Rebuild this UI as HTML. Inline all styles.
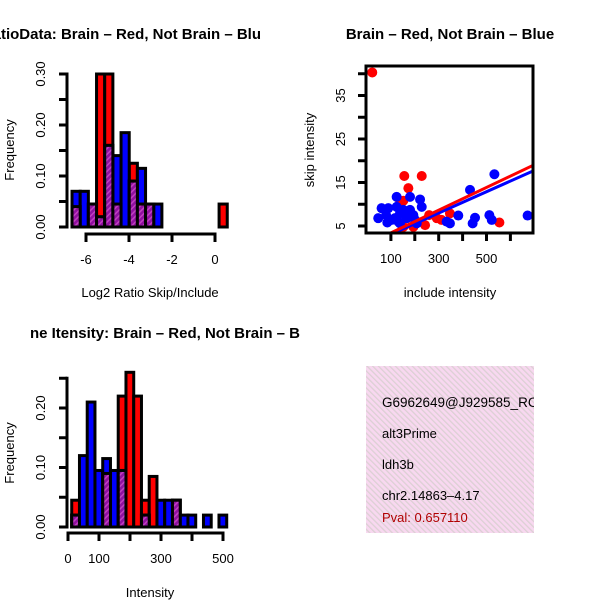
<!DOCTYPE html>
<html><head><meta charset="utf-8"><style>
body{margin:0;background:#fff}
svg{display:block;font-family:"Liberation Sans",sans-serif}
</style></head><body>
<svg id="s" width="600" height="600" viewBox="0 0 600 600">
<defs>
<pattern id="hatch" width="4" height="4" patternUnits="userSpaceOnUse" patternTransform="rotate(45)">
<rect width="4" height="4" fill="#9010a0"/><rect width="1.5" height="4" fill="#c040c0"/></pattern>
<pattern id="pink" width="4" height="4" patternUnits="userSpaceOnUse" patternTransform="rotate(-45)">
<rect width="4" height="4" fill="#f8d8f0"/><rect width="1.3" height="4" fill="#dcd0d4"/></pattern>
<clipPath id="infoclip"><rect x="366" y="366" width="168" height="167"/></clipPath>
</defs>
<text x="261" y="39" text-anchor="end" font-size="15" font-weight="bold">RatioData: Brain – Red, Not Brain – Blu</text>
<text x="450" y="39" text-anchor="middle" font-size="15" font-weight="bold">Brain – Red, Not Brain – Blue</text>
<text x="300" y="338" text-anchor="end" font-size="15" font-weight="bold">ne Itensity: Brain – Red, Not Brain – B</text>
<g id="g1"></g><g id="g2"></g><g id="g3"></g>
<rect x="366" y="366" width="168" height="167" fill="url(#pink)"/>
<g clip-path="url(#infoclip)">
<text x="382" y="407" font-size="13.5">G6962649@J929585_RC</text>
</g>
<text x="382" y="438" font-size="13">alt3Prime</text>
<text x="382" y="469" font-size="13">ldh3b</text>
<text x="382" y="500" font-size="13">chr2.14863–4.17</text>
<text x="382" y="522" font-size="13" fill="#b00000">Pval: 0.657110</text>
</svg>
<script>
// Top histogram data
const ratioRed=[0.04,0,0.045,0.30,0.30,0.045,0,0.125,0.045,0.045,0,0,0,0,0,0,0,0,0.045];
const ratioBlue=[0.07,0.07,0.045,0.02,0.16,0.14,0.185,0.09,0.115,0.045,0.045,0,0,0,0,0,0,0,0];
const ratioXTicks=[-6,-4,-2,0];
const ratioYTicks=[0,0.05,0.10,0.15,0.20,0.25,0.30];
const ratioYLabels=["0.00","","0.10","","0.20","","0.30"];
// Bottom histogram data
const intRed=[0.045,0,0,0,0.09,0,0.22,0.26,0.22,0.045,0.085,0,0,0.045,0,0,0,0,0,0];
const intBlue=[0.02,0.12,0.21,0.095,0.115,0.095,0.095,0,0,0.02,0,0.045,0.045,0.045,0.02,0.02,0,0.02,0,0.02];
const intXTicks=[0,100,200,300,400,500];
const intXLabels=["0","100","","300","","500"];
const intYTicks=[0,0.05,0.10,0.15,0.20,0.25];
const intYLabels=["0.00","","0.10","","0.20",""];
// Scatter data
const blueX=[47,61,89,85,124,117,138,152,180,180,166,201,222,229,80,103,131,194,382,431,442,452,333,347,512,522,533,672,138,208,124];
const blueY=[6.8,9.1,9.1,5.8,11.7,6.8,7.9,8.7,11.7,8.7,6.8,6.4,11.1,9.4,7.5,6.4,6.0,7.5,7.4,13.3,5.6,6.9,6.0,5.6,7.5,6.4,16.9,7.4,5.6,5.6,9.4];
const redX=[22,156,229,173,138,152,554,292,347,243,194,152,312,260];
const redY=[40.3,16.5,16.5,13.7,10.2,10.8,5.8,6.8,7.9,5.2,4.8,4.8,6.4,7.5];
const fitSeries=['blue','red'];
const fitIntercept=[0.63,0.81];
const fitSlope=[0.0245,0.0261];
const scXTicks=[100,200,300,400,500,600];
const scXLabels=["100","","300","","500",""];
const scYTicks=[5,10,15,20,25,30,35,40];
const scYLabels=["5","","15","","25","","35",""];

const NS="http://www.w3.org/2000/svg";
function mk(p,t,a){const e=document.createElementNS(NS,t);for(const k in a)e.setAttribute(k,a[k]);p.appendChild(e);return e;}

function hist(g,red,blue,start,width,xs,ys,name){
  const n=red.length;
  const rect=(i,v,fill,nm)=>{
    if(v<=0)return;
    const x0=xs(start+i*width),x1=xs(start+(i+1)*width);
    const r=mk(g,'rect',{x:x0,y:ys(v),width:x1-x0,height:ys(0)-ys(v),fill:fill,stroke:'#000','stroke-width':3});
    
    
  };
  for(let i=0;i<n;i++)rect(i,red[i],'#ff0000',name+'-red-bar');
  for(let i=0;i<n;i++)rect(i,blue[i],'#0000ff',name+'-blue-bar');
  for(let i=0;i<n;i++)rect(i,Math.min(red[i],blue[i]),'url(#hatch)',name+'-overlap-bar');
}
function yAxis(g,ticks,labels,ys,x,name){
  mk(g,'line',{x1:x,x2:x,y1:ys(ticks[0]),y2:ys(ticks[ticks.length-1]),stroke:'#000','stroke-width':3,'stroke-linecap':'square'});
  ticks.forEach((t,i)=>{
    mk(g,'line',{x1:x,x2:x-8,y1:ys(t),y2:ys(t),stroke:'#000','stroke-width':3});
    if(labels[i]){const tx=mk(g,'text',{x:x-22,y:ys(t),'font-size':13,'text-anchor':'middle',transform:`rotate(-90 ${x-22} ${ys(t)})`});tx.textContent=labels[i];
    
    }
  });
}
function xAxis(g,ticks,labels,xs,y,name){
  mk(g,'line',{x1:xs(ticks[0]),x2:xs(ticks[ticks.length-1]),y1:y,y2:y,stroke:'#000','stroke-width':3,'stroke-linecap':'square'});
  ticks.forEach((t,i)=>{
    mk(g,'line',{x1:xs(t),x2:xs(t),y1:y,y2:y+8,stroke:'#000','stroke-width':3});
    if(labels[i]){const tx=mk(g,'text',{x:xs(t),y:y+30,'font-size':13,'text-anchor':'middle'});tx.textContent=labels[i];
    
    }
  });
}
function label(g,txt,x,y,rot,nm){
  const t=mk(g,'text',{x:x,y:y,'font-size':13,'text-anchor':'middle'});
  if(rot)t.setAttribute('transform',`rotate(-90 ${x} ${y})`);
  t.textContent=txt;
  
  
}
// Panel 1
{const g=document.getElementById('g1');
 const xs=v=>86+(v+6)*21.5, ys=v=>227-v*510;
 hist(g,ratioRed,ratioBlue,-6.65,0.38,xs,ys,'ratio');
 yAxis(g,ratioYTicks,ratioYLabels,ys,67,'ratio-y');
 xAxis(g,ratioXTicks,ratioXTicks.map(String),xs,234,'ratio-x');
 label(g,'Log2 Ratio Skip/Include',150,297,false,'ratio-x-title');
 label(g,'Frequency',14,150,true,'ratio-y-title');}
// Panel 3
{const g=document.getElementById('g3');
 const xs=v=>68+v*0.31, ys=v=>527-v*595;
 hist(g,intRed,intBlue,12,25,xs,ys,'intensity');
 yAxis(g,intYTicks,intYLabels,ys,67,'intensity-y');
 xAxis(g,intXTicks,intXLabels,xs,533,'intensity-x');
 label(g,'Intensity',150,597,false,'intensity-x-title');
 label(g,'Frequency',14,453,true,'intensity-y-title');}
// Panel 2 scatter
{const g=document.getElementById('g2');
 const xs=v=>367+v*0.239, ys=v=>226-(v-5)*4.35;
 mk(g,'clipPath',{id:'sc'}).appendChild(document.createElementNS(NS,'rect'));
 const cr=g.querySelector('#sc rect');cr.setAttribute('x',366);cr.setAttribute('y',66);cr.setAttribute('width',167);cr.setAttribute('height',167);
 const pts=mk(g,'g',{'clip-path':'url(#sc)'});
 redX.forEach((x,i)=>{const c=mk(pts,'circle',{cx:xs(x),cy:ys(redY[i]),r:5,fill:'#ff0000'});
   
   });
 blueX.forEach((x,i)=>{const c=mk(pts,'circle',{cx:xs(x),cy:ys(blueY[i]),r:5,fill:'#0000ff'});
   
   });
 fitSeries.forEach((s,k)=>{
   const x0=-10,x1=720;
   const l=mk(pts,'line',{x1:xs(x0),y1:ys(fitIntercept[k]+fitSlope[k]*x0),x2:xs(x1),y2:ys(fitIntercept[k]+fitSlope[k]*x1),stroke:s==='red'?'#ff0000':'#0000ff','stroke-width':3});
   
   });
 const b=mk(g,'rect',{x:366,y:66,width:167,height:167,fill:'none',stroke:'#000','stroke-width':3});
 
 
 scYTicks.forEach((t,i)=>{mk(g,'line',{x1:366,x2:358,y1:ys(t),y2:ys(t),stroke:'#000','stroke-width':3});
   if(scYLabels[i]){const tx=mk(g,'text',{x:345,y:ys(t),'font-size':13,'text-anchor':'middle',transform:`rotate(-90 345 ${ys(t)})`});tx.textContent=scYLabels[i];
   
   }});
 scXTicks.forEach((t,i)=>{mk(g,'line',{x1:xs(t),x2:xs(t),y1:233,y2:241,stroke:'#000','stroke-width':3});
   if(scXLabels[i]){const tx=mk(g,'text',{x:xs(t),y:263,'font-size':13,'text-anchor':'middle'});tx.textContent=scXLabels[i];
   
   }});
 label(g,'include intensity',450,297,false,'scatter-x-title');
 label(g,'skip intensity',314,150,true,'scatter-y-title');}
</script>
</body></html>
